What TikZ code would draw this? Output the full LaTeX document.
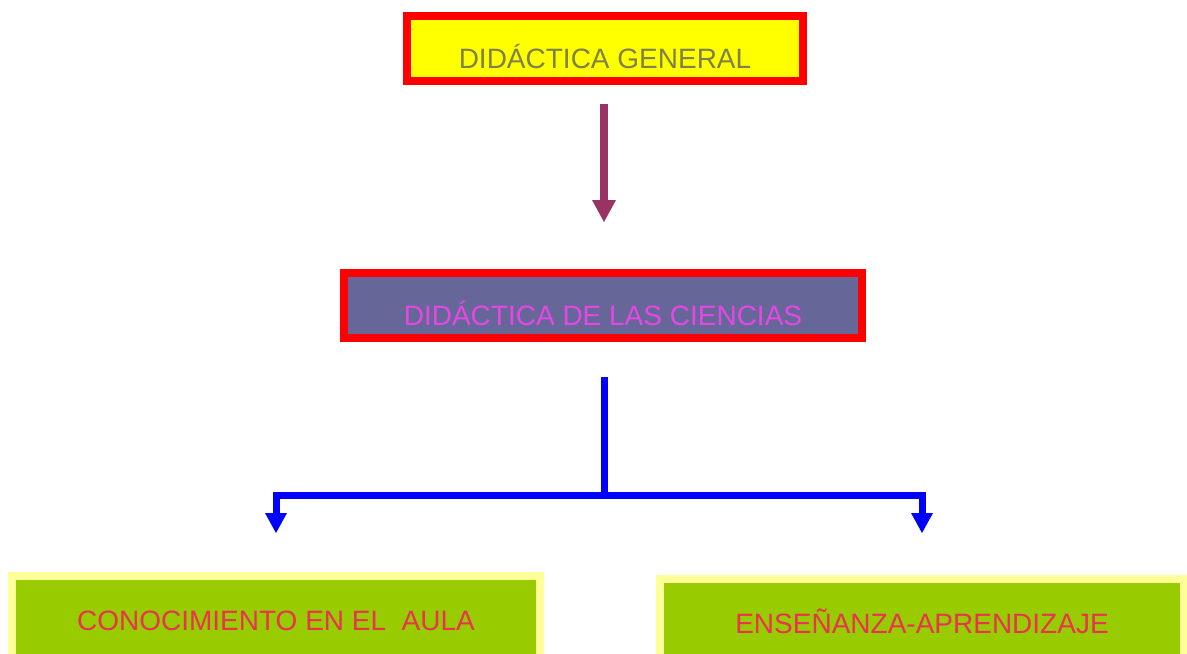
\documentclass[tikz,border=0pt]{standalone}
\usepackage{fontspec}
\setmainfont{Liberation Sans}
\usetikzlibrary{arrows.meta}
\definecolor{redline}{HTML}{FF0000}
\definecolor{gfill}{HTML}{FFFF00}
\definecolor{cfill}{HTML}{666699}
\definecolor{lfill}{HTML}{99CC00}
\definecolor{lline}{HTML}{FFFF99}
\definecolor{gtext}{HTML}{80804A}
\definecolor{ctext}{HTML}{E448E4}
\definecolor{ltext}{HTML}{E8344F}
\definecolor{pline}{HTML}{993366}
\tikzset{%
  mainbox/.style={draw=redline,line width=4pt,minimum height=32.5pt,inner sep=0pt,text height=19.5pt,text depth=0pt,font=\fontsize{14}{16}\selectfont},
  leafbox/.style={draw=lline,fill=lfill,text=ltext,line width=4pt,minimum height=44pt,inner sep=0pt,text height=10pt,text depth=0pt,font=\fontsize{14}{16}\selectfont},
  pedge/.style={draw=pline,line width=4pt,-{Triangle[width=12pt,length=11pt,line width=0pt]}},
  bedge/.style={draw=blue,line width=3.5pt},
  barrow/.style={bedge,-{Triangle[width=11pt,length=10pt,line width=0pt]}}
}
\begin{document}
\begin{tikzpicture}[x=0.5pt,y=-0.5pt]
    \useasboundingbox (0,0) rectangle (1187,653);
    \clip (0,0) rectangle (1187,653);
    \path
      (605,48.5) node[mainbox,fill=gfill,text=gtext,minimum width=198pt] (general) {DIDÁCTICA GENERAL}
      (603,305.5) node[mainbox,fill=cfill,text=ctext,minimum width=259pt] (ciencias) {DIDÁCTICA DE LAS CIENCIAS}
      (276,620) node[leafbox,minimum width=264pt] (aula) {CONOCIMIENTO EN EL\ \ AULA}
      (922,623) node[leafbox,minimum width=262pt] (ensenanza) {ENSEÑANZA-APRENDIZAJE};
    \coordinate (fork) at (604,495);
    \draw[pedge,shorten <=9.5pt,shorten >=23.5pt] (general.south -| fork) -- (ciencias.north -| fork);
    \draw[bedge,shorten <=17.5pt] (ciencias.south -| fork) -- (fork);
    \draw[barrow,shorten >=19.5pt] (fork) -| (aula.north);
    \draw[barrow,shorten >=21pt] (fork) -| (ensenanza.north);
\end{tikzpicture}
\end{document}
